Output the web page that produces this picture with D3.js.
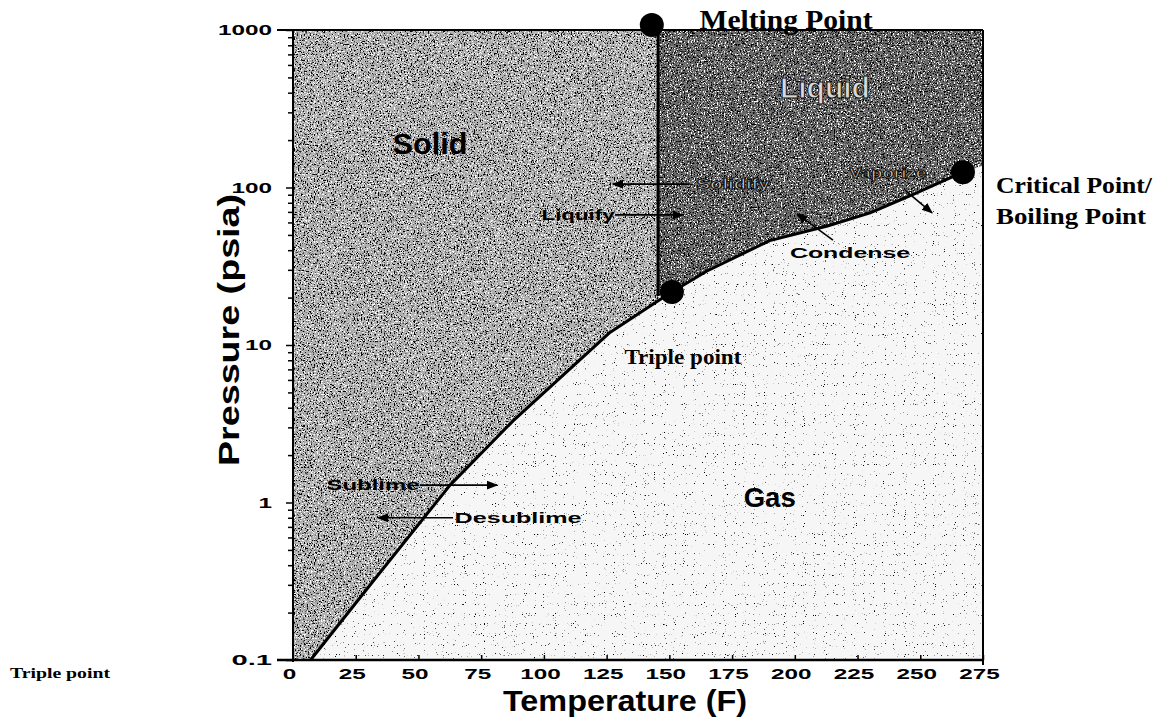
<!DOCTYPE html>
<html>
<head>
<meta charset="utf-8">
<script src="https://cdn.jsdelivr.net/npm/d3@7"></script>
<style>
  body { margin: 0; background: #fff; }
  svg { display: block; }
  .sans { font-family: "Liberation Sans", Arial, sans-serif; font-weight: bold; }
  .serif { font-family: "Liberation Serif", "Times New Roman", serif; font-weight: bold; }
</style>
</head>
<body>
<svg width="1168" height="728"></svg>
<script>
// phase boundaries, [temperature F, pressure psia]
const sublimation = [[7, 0.1], [33.5, 0.34], [62.6, 1.29], [87.7, 3.3], [126, 11.9], [146, 19.3], [151, 21.7]];
const vaporization = [[151, 21.7], [165, 29.5], [190, 46], [213, 57], [230, 69], [247, 90], [267, 125], [275, 138]];
const melting = [[145.5, 1000], [145.5, 20.5]];

// special points
const points = [
  { name: "Melting Point", T: 143, P: 1076 },
  { name: "Triple point", T: 151, P: 21.7 },
  { name: "Critical Point", T: 267, P: 125 }
];

const xTicks = [0, 25, 50, 75, 100, 125, 150, 175, 200, 225, 250, 275];
const yTicks = [0.1, 1, 10, 100, 1000];
const yTickLabels = ["0.1", "1", "10", "100", "1000"];

// process arrows, from -> to
const arrows = [
  { name: "Solidify", from: [158, 105], to: [127.5, 105] },
  { name: "Liquify", from: [128.3, 67], to: [155.4, 67] },
  { name: "Sublime", from: [50.6, 1.29], to: [81.3, 1.29] },
  { name: "Desublime", from: [63.8, 0.8], to: [33.9, 0.8] },
  { name: "Vaporize", from: [244, 96], to: [254.7, 69] },
  { name: "Condense", from: [215.2, 46.4], to: [200.9, 68] }
];

const width = 1168;
const height = 728;

const svg = d3.select("svg");

const x = d3.scaleLinear().domain([0, 275]).range([293, 983]);
const y = d3.scaleLog().domain([0.1, 1000]).range([660, 30]);

const defs = svg.append("defs");

// grainy photocopy look for the regions
function addSpeck(id, specs) {
  const f = defs.append("filter").attr("id", id)
    .attr("x", 0).attr("y", 0).attr("width", 1).attr("height", 1)
    .attr("color-interpolation-filters", "sRGB");
  specs.forEach((s, i) => {
    f.append("feTurbulence").attr("type", "fractalNoise").attr("baseFrequency", s.freq)
      .attr("numOctaves", s.oct).attr("seed", s.seed).attr("result", "n" + i);
    f.append("feColorMatrix").attr("in", "n" + i).attr("type", "matrix")
      .attr("values", `0 0 0 0 ${s.c} 0 0 0 0 ${s.c} 0 0 0 0 ${s.c} ${s.g} 0 0 0 ${s.o}`)
      .attr("result", "m" + i);
    f.append("feComposite").attr("in", "m" + i).attr("in2", "SourceGraphic")
      .attr("operator", "in").attr("result", "d" + i);
  });
  const m = f.append("feMerge");
  m.append("feMergeNode").attr("in", "SourceGraphic");
  specs.forEach((s, i) => m.append("feMergeNode").attr("in", "d" + i));
}
addSpeck("gasTex", [{ freq: 0.9, oct: 1, seed: 2, c: 0, g: 14, o: -9.6 }]);
addSpeck("solidTex", [
  { freq: 0.7, oct: 2, seed: 3, c: 0, g: 10, o: -5.6 },
  { freq: 0.7, oct: 2, seed: 7, c: 1, g: 10, o: -5.7 }
]);
addSpeck("liquidTex", [
  { freq: 0.7, oct: 2, seed: 5, c: 0, g: 10, o: -5.4 },
  { freq: 0.7, oct: 2, seed: 9, c: 1, g: 10, o: -5.9 }
]);

defs.append("marker").attr("id", "head")
  .attr("viewBox", "0 0 10 10").attr("refX", 9).attr("refY", 5)
  .attr("markerWidth", 7).attr("markerHeight", 7).attr("orient", "auto")
  .append("path").attr("d", "M0,1 L10,5 L0,9 Z").attr("fill", "#000");

const line = d3.line().x(d => x(d[0])).y(d => y(d[1]));

// regions
const gasRegion = [[0, 1000], [275, 1000], [275, 0.1], [0, 0.1]];
const solidRegion = [[0, 1000], [145.5, 1000], [145.5, 20.5]]
  .concat(sublimation.slice(0, -1).reverse())
  .concat([[0, 0.1]]);
const liquidRegion = [[145.5, 1000], [275, 1000]]
  .concat(vaporization.slice().reverse())
  .concat([[145.5, 20.5]]);

svg.append("path").attr("d", line(gasRegion) + "Z").attr("fill", "#f6f6f6").attr("filter", "url(#gasTex)");
svg.append("path").attr("d", line(solidRegion) + "Z").attr("fill", "#b0b0b0").attr("filter", "url(#solidTex)");
svg.append("path").attr("d", line(liquidRegion) + "Z").attr("fill", "#6a6a6a").attr("filter", "url(#liquidTex)");

// boundaries
[sublimation, vaporization.slice(0, -1), melting].forEach(b => {
  svg.append("path").attr("d", line(b)).attr("fill", "none")
    .attr("stroke", "#000").attr("stroke-width", 3).attr("stroke-linejoin", "round");
});

// frame
svg.append("line").attr("x1", x(0) - 16).attr("x2", x(275)).attr("y1", y(1000)).attr("y2", y(1000))
  .attr("stroke", "#000").attr("stroke-width", 2);
svg.append("line").attr("x1", x(275)).attr("x2", x(275)).attr("y1", y(1000)).attr("y2", y(0.1) + 5)
  .attr("stroke", "#000").attr("stroke-width", 2);

// axes
const yMinor = [];
for (let e = -1; e < 3; e++) for (let k = 2; k < 10; k++) yMinor.push(k * Math.pow(10, e));

const yAxis = svg.append("g").attr("transform", `translate(${x(0)},0)`)
  .call(d3.axisLeft(y).tickValues(yTicks).tickSize(7).tickPadding(14)
    .tickFormat((d, i) => yTickLabels[i]));
svg.append("g").attr("transform", `translate(${x(0)},0)`)
  .call(d3.axisLeft(y).tickValues(yMinor).tickSize(5).tickFormat(""))
  .call(g => g.select(".domain").remove());
yAxis.select(".domain").attr("stroke-width", 2).attr("d", `M0,${y(1000)}V${y(0.1) + 2}`);

const xAxis = svg.append("g").attr("transform", `translate(0,${y(0.1)})`)
  .call(d3.axisBottom(x).tickValues(xTicks).tickSize(-5).tickPadding(8));
xAxis.select(".domain").attr("stroke-width", 2.5).attr("d", `M${x(0) - 16},0H${x(275)}`);

svg.selectAll(".tick line").attr("stroke", "#000").attr("stroke-width", 1.5);
yAxis.selectAll(".tick text")
  .attr("class", "sans").attr("font-size", 15).attr("fill", "#000")
  .attr("textLength", d => yTickLabels[yTicks.indexOf(d)].length * 13.5)
  .attr("lengthAdjust", "spacingAndGlyphs");
xAxis.selectAll(".tick text")
  .attr("class", "sans").attr("font-size", 15).attr("fill", "#000").attr("dx", -4)
  .attr("textLength", d => String(d).length * 13.5)
  .attr("lengthAdjust", "spacingAndGlyphs");

// axis titles
svg.append("text").attr("class", "sans").attr("font-size", 29)
  .attr("x", 625).attr("y", 711).attr("text-anchor", "middle")
  .attr("textLength", 244).attr("lengthAdjust", "spacingAndGlyphs")
  .text("Temperature (F)");
svg.append("text").attr("class", "sans").attr("font-size", 29)
  .attr("transform", "translate(239,330) rotate(-90)").attr("text-anchor", "middle")
  .attr("textLength", 272).attr("lengthAdjust", "spacingAndGlyphs")
  .text("Pressure (psia)");

// arrows
arrows.forEach(a => {
  svg.append("line")
    .attr("x1", x(a.from[0])).attr("y1", y(a.from[1]))
    .attr("x2", x(a.to[0])).attr("y2", y(a.to[1]))
    .attr("stroke", "#000").attr("stroke-width", 1.6)
    .attr("marker-end", "url(#head)");
});

// points
svg.selectAll("circle.pt").data(points).join("circle").attr("class", "pt")
  .attr("cx", d => x(d.T)).attr("cy", d => y(d.P)).attr("r", 12).attr("fill", "#000");

// labels: [text, T, P, class, size, width, fill]
const labels = [
  ["Solid", 54.6, 192, "sans", 30, 75, "#000"],
  ["Liquid", 212, 435, "sans", 30, 90, "#d8d8d8"],
  ["Gas", 190, 1.08, "sans", 28, 52, "#000"],
  ["Solidify", 175.4, 105, "sans", 14, 73, "#d8d8d8"],
  ["Liquify", 113.6, 67, "sans", 14, 73, "#000"],
  ["Vaporize", 237, 124, "sans", 14, 77, "#d8d8d8"],
  ["Condense", 222, 38.4, "sans", 15, 120, "#000"],
  ["Sublime", 31.9, 1.29, "sans", 14, 93, "#000"],
  ["Desublime", 89.7, 0.8, "sans", 15, 127, "#000"],
  ["Triple point", 155.4, 8.4, "serif", 20, 117, "#000"],
  ["Melting Point", 196.5, 1175, "serif", 28, 173, "#000"]
];
labels.forEach(l => {
  const t = svg.append("text").attr("class", l[3]).attr("font-size", l[4])
    .attr("x", x(l[1])).attr("y", y(l[2])).attr("dy", "0.36em")
    .attr("text-anchor", "middle").attr("fill", l[6])
    .attr("textLength", l[5]).attr("lengthAdjust", "spacingAndGlyphs")
    .text(l[0]);
  if (l[6] !== "#000") t.attr("stroke", "#111").attr("stroke-width", 1);
});

// critical point caption, right of the plot
svg.append("text").attr("class", "serif").attr("font-size", 24)
  .attr("x", 996).attr("y", 193).attr("textLength", 156).attr("lengthAdjust", "spacingAndGlyphs")
  .text("Critical Point/");
svg.append("text").attr("class", "serif").attr("font-size", 24)
  .attr("x", 996).attr("y", 224).attr("textLength", 150).attr("lengthAdjust", "spacingAndGlyphs")
  .text("Boiling Point");

// stray caption, bottom left
svg.append("text").attr("class", "serif").attr("font-size", 15)
  .attr("x", 10).attr("y", 678).attr("textLength", 100).attr("lengthAdjust", "spacingAndGlyphs")
  .text("Triple point");
</script>
</body>
</html>
